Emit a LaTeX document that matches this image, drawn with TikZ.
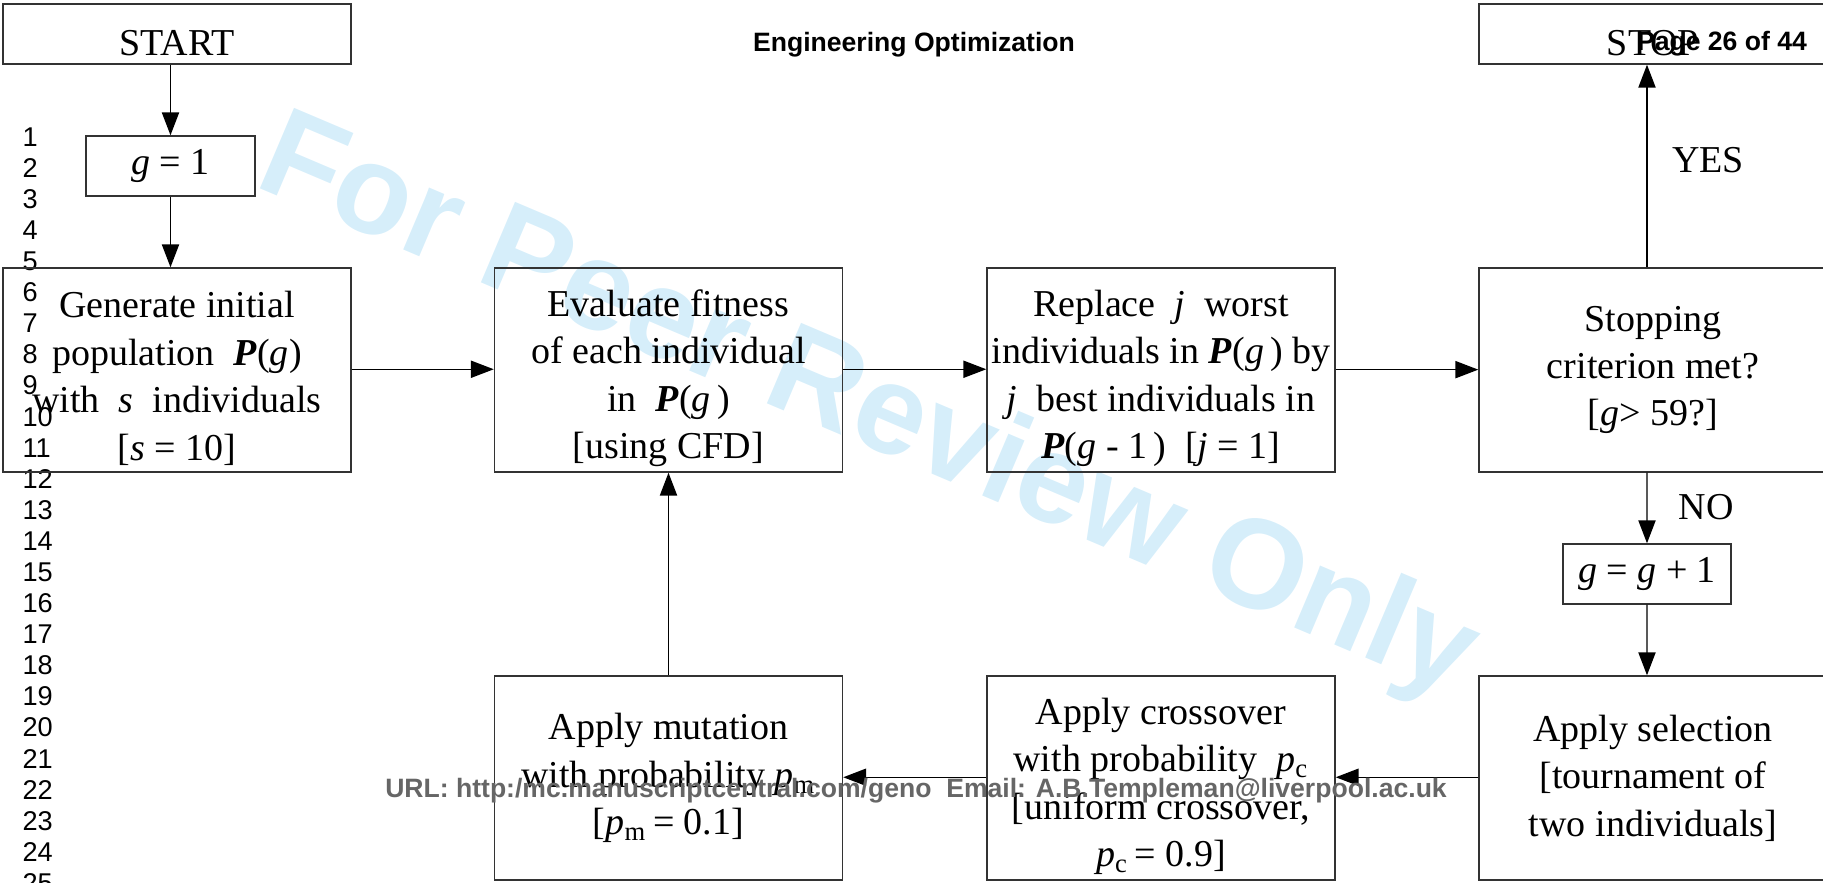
\documentclass[tikz,border=0pt]{standalone}
\usepackage{fontspec}
\setmainfont{Liberation Serif}
\newfontfamily\headfont{Liberation Sans}
\usetikzlibrary{arrows.meta}
\definecolor{wmblue}{RGB}{214,238,250}
\definecolor{urlgrey}{RGB}{102,102,102}
\newcommand{\popP}{\textbf{\textit{P}}}
\newcommand{\itx}[1]{\textit{#1}}
\newcommand{\lowstrut}{\rule{0pt}{15pt}}

\begin{document}
\begin{tikzpicture}[scale=0.123,
	box/.style={draw=black!80, line width=0.5pt, minimum width=121.8pt, minimum height=71.4pt,
		inner sep=0pt, align=center, font=\fontsize{13.3}{16.6}\selectfont},
	smallbox/.style={draw=black!80, line width=0.5pt, minimum width=121.8pt, minimum height=21pt,
		inner sep=0pt, font=\fontsize{13.3}{16.6}\selectfont},
	lbl/.style={inner sep=0pt, font=\fontsize{13.3}{16.6}\selectfont},
	flow/.style={-{Triangle[length=8pt,width=6pt]}, line width=0.5pt},
	lineno/.style={anchor=west, inner sep=0pt, font=\headfont\fontsize{9.5}{11}\selectfont},
	pagetext/.style={anchor=base, inner sep=0pt, font=\headfont\bfseries\fontsize{9.3}{11}\selectfont}]
	\useasboundingbox (0,0) rectangle (182.3,-88.3);
	% watermark
	\node[anchor=base, rotate=-23, inner sep=0pt, text=wmblue,
		font=\headfont\bfseries\fontsize{44.5}{48}\selectfont] (wmark) at (85.4,-44.1) {For Peer Review Only};
	% margin line numbers
	\foreach \n in {1,...,25}
		\node[lineno] (ln\n) at (2.2,{-13.7-3.108*(\n-1)}) {\n};
	% top row
	\node[smallbox, text height=15pt, text depth=0pt] (start) at (17.7,-3.4) {START};
	\node[smallbox, minimum width=59.2pt] (ginit) at (17.05,-16.6) {\itx{g} = 1};
	\node[box] (gen) at (17.7,-37) {\lowstrut Generate initial\\ population \ \popP(\itx{g})\\ with \ \itx{s} \ individuals\\ {[}\itx{s} = 10]};
	\node[box] (eval) at (66.85,-37) {\lowstrut Evaluate fitness\\ of each individual\\ in \ \popP(\itx{g}\,)\\ {[}using CFD]};
	\node[box] (repl) at (116.1,-37) {\lowstrut Replace \ \itx{j} \ worst\\ individuals in \popP(\itx{g}\,) by\\ \itx{j} \ best individuals in\\ \popP(\itx{g} - 1\,) \ [\itx{j} = 1]};
	\node[box] (crit) at (165.3,-37) {Stopping\\ criterion met?\\ {[}\itx{g}> 59?]};
	\node[smallbox, text height=15pt, text depth=0pt] (stop) at (165.3,-3.4) {STOP};
	\node[smallbox, minimum width=58.8pt] (ginc) at (164.7,-57.4) {\itx{g} = \itx{g} + 1};
	% bottom row
	\node[box] (sel) at (165.3,-77.8) {Apply selection\\ {[}tournament of\\ two individuals]};
	\node[box] (cross) at (116.1,-77.8) {\lowstrut Apply crossover\\ with probability \ \itx{p}\textsubscript{c}\\ {[}uniform crossover,\\ \itx{p}\textsubscript{c}\,= 0.9]};
	\node[box] (mut) at (66.85,-77.8) {Apply mutation\\ with probability \itx{p}\textsubscript{m}\\ {[}\itx{p}\textsubscript{m}\,= 0.1]};
	\node[lbl] (yes) at (170.8,-16) {YES};
	\node[lbl] (no) at (170.6,-50.7) {NO};
	% connectors
	\draw[flow] (start.south -| ginit) -- (ginit);
	\draw[flow] (ginit) -- (gen.north -| ginit);
	\draw[flow] ([yshift=2.1pt]gen.east) -- ([yshift=2.1pt]eval.west);
	\draw[flow] ([yshift=2.1pt]eval.east) -- ([yshift=2.1pt]repl.west);
	\draw[flow] ([yshift=1pt]repl.east) -- ([yshift=1pt]crit.west);
	\draw[flow] (crit.north -| ginc) -- (stop.south -| ginc);
	\draw[flow] (crit.south -| ginc) -- (ginc);
	\draw[flow] (ginc) -- (sel.north -| ginc);
	\draw[flow] ([yshift=2.1pt]sel.west) -- ([yshift=2.1pt]cross.east);
	\draw[flow] ([yshift=2.1pt]cross.west) -- ([yshift=2.1pt]mut.east);
	\draw[flow] (mut) -- (eval);
	% page header and footer
	\node[pagetext] (journal) at (91.4,-5.2) {Engineering Optimization};
	\node[pagetext] (pageno) at (172.2,-5.1) {Page 26 of 44};
	\node[pagetext, text=urlgrey] (url) at (91.6,-79.7) {URL: http:/mc.manuscriptcentral.com/geno \ Email: A.B.Templeman@liverpool.ac.uk};
\end{tikzpicture}
\end{document}
